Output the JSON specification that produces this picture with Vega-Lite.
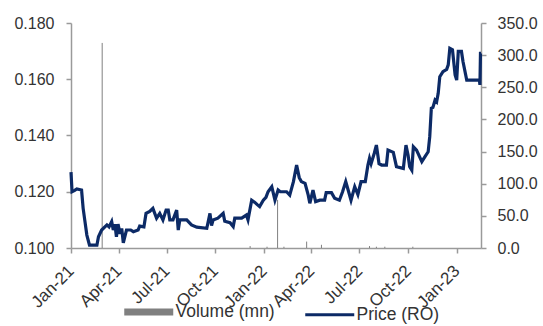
{
  "$schema": "https://vega.github.io/schema/vega-lite/v6.json",
  "width": 410,
  "height": 225,
  "autosize": {"type": "none"},
  "padding": {"left": 71, "top": 23, "right": 62, "bottom": 78},
  "config": {
    "view": {"stroke": null},
    "font": "Liberation Sans",
    "axis": {
      "labelFont": "Liberation Sans",
      "labelFontSize": 16,
      "labelColor": "#333333",
      "domainColor": "#9a9a9a",
      "tickColor": "#9a9a9a",
      "domainWidth": 1.5,
      "tickWidth": 1.5,
      "tickSize": 5,
      "grid": false,
      "title": null
    },
    "legend": {
      "labelFont": "Liberation Sans",
      "labelFontSize": 17.5,
      "labelColor": "#333333"
    }
  },
  "datasets": {
    "price": [
      {"date": "2021-01-01", "price": 0.127},
      {"date": "2021-01-03", "price": 0.120},
      {"date": "2021-01-08", "price": 0.1205},
      {"date": "2021-01-12", "price": 0.121},
      {"date": "2021-01-21", "price": 0.1206},
      {"date": "2021-01-24", "price": 0.1141},
      {"date": "2021-01-27", "price": 0.110},
      {"date": "2021-01-31", "price": 0.1046},
      {"date": "2021-02-05", "price": 0.101},
      {"date": "2021-02-19", "price": 0.101},
      {"date": "2021-02-22", "price": 0.104},
      {"date": "2021-02-28", "price": 0.1064},
      {"date": "2021-03-10", "price": 0.1082},
      {"date": "2021-03-14", "price": 0.1075},
      {"date": "2021-03-19", "price": 0.1094},
      {"date": "2021-03-22", "price": 0.1064},
      {"date": "2021-03-25", "price": 0.1085},
      {"date": "2021-03-28", "price": 0.104},
      {"date": "2021-03-31", "price": 0.1085},
      {"date": "2021-04-04", "price": 0.105},
      {"date": "2021-04-07", "price": 0.107},
      {"date": "2021-04-10", "price": 0.1018},
      {"date": "2021-04-16", "price": 0.1064},
      {"date": "2021-04-24", "price": 0.1064},
      {"date": "2021-04-29", "price": 0.1058},
      {"date": "2021-05-08", "price": 0.1064},
      {"date": "2021-05-11", "price": 0.1078},
      {"date": "2021-05-19", "price": 0.1075},
      {"date": "2021-05-23", "price": 0.1123},
      {"date": "2021-05-30", "price": 0.113},
      {"date": "2021-06-05", "price": 0.1141},
      {"date": "2021-06-12", "price": 0.1106},
      {"date": "2021-06-18", "price": 0.1123},
      {"date": "2021-06-24", "price": 0.110},
      {"date": "2021-06-30", "price": 0.1135},
      {"date": "2021-07-04", "price": 0.1135},
      {"date": "2021-07-07", "price": 0.110},
      {"date": "2021-07-13", "price": 0.110},
      {"date": "2021-07-20", "price": 0.1135},
      {"date": "2021-07-23", "price": 0.1064},
      {"date": "2021-07-26", "price": 0.110},
      {"date": "2021-08-08", "price": 0.110},
      {"date": "2021-08-17", "price": 0.1082},
      {"date": "2021-08-27", "price": 0.1074},
      {"date": "2021-09-15", "price": 0.107},
      {"date": "2021-09-21", "price": 0.1123},
      {"date": "2021-09-24", "price": 0.108},
      {"date": "2021-09-27", "price": 0.110},
      {"date": "2021-10-06", "price": 0.1106},
      {"date": "2021-10-16", "price": 0.1123},
      {"date": "2021-10-19", "price": 0.1095},
      {"date": "2021-10-29", "price": 0.109},
      {"date": "2021-11-04", "price": 0.1076},
      {"date": "2021-11-07", "price": 0.1106},
      {"date": "2021-11-20", "price": 0.1106},
      {"date": "2021-11-29", "price": 0.1117},
      {"date": "2021-12-02", "price": 0.110},
      {"date": "2021-12-09", "price": 0.117},
      {"date": "2021-12-15", "price": 0.1162},
      {"date": "2021-12-19", "price": 0.1155},
      {"date": "2021-12-24", "price": 0.1147},
      {"date": "2021-12-31", "price": 0.117},
      {"date": "2022-01-05", "price": 0.118},
      {"date": "2022-01-09", "price": 0.120},
      {"date": "2022-01-16", "price": 0.1218},
      {"date": "2022-01-22", "price": 0.117},
      {"date": "2022-01-28", "price": 0.1206},
      {"date": "2022-02-01", "price": 0.120},
      {"date": "2022-02-13", "price": 0.120},
      {"date": "2022-02-19", "price": 0.1188},
      {"date": "2022-02-26", "price": 0.1236},
      {"date": "2022-03-04", "price": 0.1295},
      {"date": "2022-03-09", "price": 0.125},
      {"date": "2022-03-13", "price": 0.1236},
      {"date": "2022-03-20", "price": 0.123},
      {"date": "2022-03-26", "price": 0.1188},
      {"date": "2022-03-29", "price": 0.1159},
      {"date": "2022-04-04", "price": 0.1206},
      {"date": "2022-04-09", "price": 0.1165},
      {"date": "2022-04-17", "price": 0.117},
      {"date": "2022-04-26", "price": 0.117},
      {"date": "2022-04-29", "price": 0.1197},
      {"date": "2022-05-09", "price": 0.1197},
      {"date": "2022-05-15", "price": 0.1177},
      {"date": "2022-05-24", "price": 0.117},
      {"date": "2022-05-30", "price": 0.120},
      {"date": "2022-06-05", "price": 0.1236},
      {"date": "2022-06-09", "price": 0.121},
      {"date": "2022-06-15", "price": 0.117},
      {"date": "2022-06-22", "price": 0.1218},
      {"date": "2022-06-28", "price": 0.119},
      {"date": "2022-07-04", "price": 0.1236},
      {"date": "2022-07-12", "price": 0.1236},
      {"date": "2022-07-17", "price": 0.1295},
      {"date": "2022-07-20", "price": 0.1319},
      {"date": "2022-07-23", "price": 0.130},
      {"date": "2022-07-29", "price": 0.1337},
      {"date": "2022-08-02", "price": 0.1366},
      {"date": "2022-08-07", "price": 0.130},
      {"date": "2022-08-12", "price": 0.1295},
      {"date": "2022-08-21", "price": 0.1295},
      {"date": "2022-08-24", "price": 0.1348},
      {"date": "2022-09-03", "price": 0.134},
      {"date": "2022-09-09", "price": 0.1289},
      {"date": "2022-09-22", "price": 0.1283},
      {"date": "2022-09-27", "price": 0.1366},
      {"date": "2022-10-01", "price": 0.133},
      {"date": "2022-10-04", "price": 0.1289},
      {"date": "2022-10-08", "price": 0.1277},
      {"date": "2022-10-11", "price": 0.136},
      {"date": "2022-10-17", "price": 0.1348},
      {"date": "2022-10-27", "price": 0.1307},
      {"date": "2022-11-02", "price": 0.1325},
      {"date": "2022-11-08", "price": 0.1342},
      {"date": "2022-11-11", "price": 0.1396},
      {"date": "2022-11-14", "price": 0.1497},
      {"date": "2022-11-17", "price": 0.150},
      {"date": "2022-11-21", "price": 0.1526},
      {"date": "2022-11-24", "price": 0.152},
      {"date": "2022-11-27", "price": 0.155},
      {"date": "2022-11-30", "price": 0.1609},
      {"date": "2022-12-06", "price": 0.1627},
      {"date": "2022-12-13", "price": 0.1635},
      {"date": "2022-12-16", "price": 0.1651},
      {"date": "2022-12-19", "price": 0.171},
      {"date": "2022-12-24", "price": 0.1705},
      {"date": "2022-12-29", "price": 0.1615},
      {"date": "2023-01-01", "price": 0.1597},
      {"date": "2023-01-04", "price": 0.1699},
      {"date": "2023-01-10", "price": 0.1699},
      {"date": "2023-01-13", "price": 0.1662},
      {"date": "2023-01-20", "price": 0.1597},
      {"date": "2023-02-13", "price": 0.1597},
      {"date": "2023-02-14", "price": 0.158},
      {"date": "2023-02-15", "price": 0.1692},
      {"date": "2023-02-16", "price": 0.1692}
    ],
    "volume": [
      {"date": "2021-03-01", "volume": 319},
      {"date": "2021-12-06", "volume": 3},
      {"date": "2022-01-07", "volume": 2},
      {"date": "2022-01-27", "volume": 75},
      {"date": "2022-02-08", "volume": 2},
      {"date": "2022-03-23", "volume": 10},
      {"date": "2022-04-20", "volume": 5},
      {"date": "2022-07-20", "volume": 3},
      {"date": "2022-08-02", "volume": 2},
      {"date": "2022-08-18", "volume": 2},
      {"date": "2022-10-10", "volume": 2}
    ]
  },
  "layer": [
    {
      "data": {"name": "volume"},
      "mark": {"type": "rule", "strokeWidth": 1},
      "encoding": {
        "x": {
          "field": "date",
          "type": "temporal",
          "scale": {"domain": ["2021-01-01", "2023-02-16"]},
          "axis": {
            "orient": "bottom",
            "values": [
              {"year": 2021, "month": 1, "date": 1},
              {"year": 2021, "month": 4, "date": 1},
              {"year": 2021, "month": 7, "date": 1},
              {"year": 2021, "month": 10, "date": 1},
              {"year": 2022, "month": 1, "date": 1},
              {"year": 2022, "month": 4, "date": 1},
              {"year": 2022, "month": 7, "date": 1},
              {"year": 2022, "month": 10, "date": 1},
              {"year": 2023, "month": 1, "date": 1}
            ],
            "format": "%b-%y",
            "labelAngle": -45,
            "labelAlign": "right",
            "labelBaseline": "middle",
            "labelFontSize": 17,
            "labelPadding": 15,
            "labelOverlap": false
          }
        },
        "y": {
          "field": "volume",
          "type": "quantitative",
          "scale": {"domain": [0, 350]},
          "axis": {
            "orient": "right",
            "values": [0, 50, 100, 150, 200, 250, 300, 350],
            "format": ".1f",
            "labelPadding": 11
          }
        },
        "y2": {"datum": 0},
        "color": {
          "datum": "Volume (mn)",
          "scale": {"domain": ["Volume (mn)", "Price (RO)"], "range": ["#808080", "#0c2a66"]},
          "legend": {
            "title": null,
            "orient": "none",
            "direction": "horizontal",
            "legendX": 69,
            "legendY": 280,
            "symbolType": "stroke",
            "symbolSize": 2400,
            "symbolStrokeWidth": 3,
            "labelOffset": 18,
            "columnPadding": 24,
            "encode": {
              "symbols": {
                "update": {
                  "strokeWidth": {"signal": "datum.value === 'Volume (mn)' ? 7 : 3"}
                }
              }
            }
          }
        }
      }
    },
    {
      "data": {"name": "price"},
      "mark": {"type": "line", "strokeWidth": 3.2},
      "encoding": {
        "x": {"field": "date", "type": "temporal"},
        "y": {
          "field": "price",
          "type": "quantitative",
          "scale": {"domain": [0.1, 0.18]},
          "axis": {
            "orient": "left",
            "values": [0.1, 0.12, 0.14, 0.16, 0.18],
            "format": ".3f",
            "labelPadding": 12
          }
        },
        "color": {"datum": "Price (RO)"}
      }
    }
  ],
  "resolve": {"scale": {"y": "independent"}}
}
